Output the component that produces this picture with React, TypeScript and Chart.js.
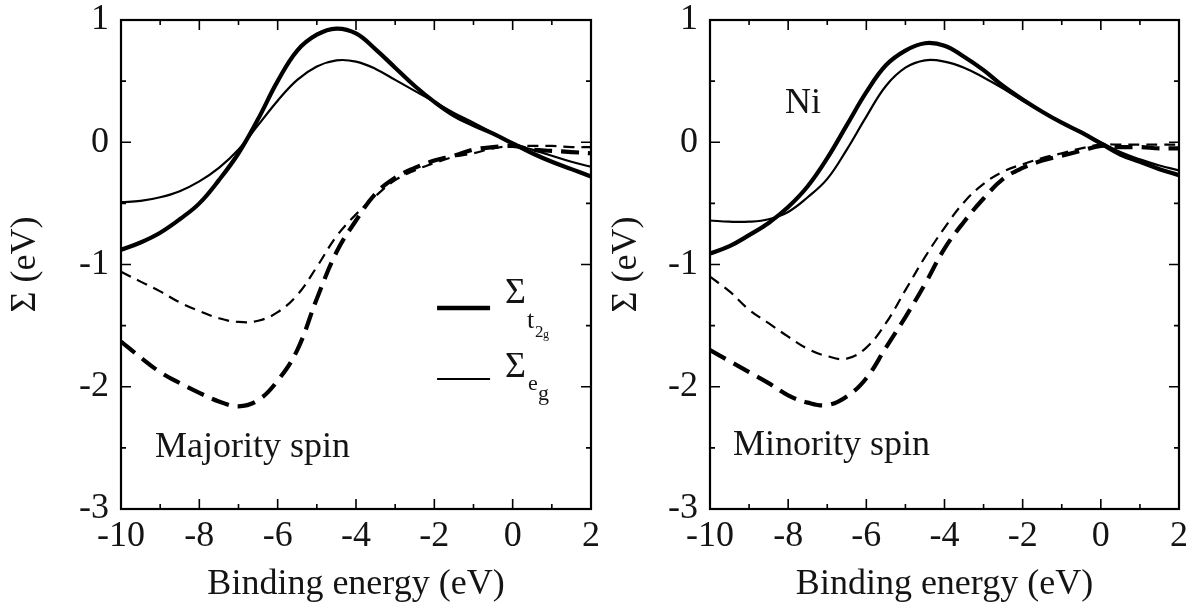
import React, { useEffect, useRef } from "react";
import { Chart, registerables } from "chart.js";

Chart.register(...registerables);

// ---------------- data ----------------
const energy = [-10, -9.5, -9, -8.5, -8, -7.5, -7, -6.5, -6, -5.5, -5, -4.5, -4, -3.5, -3, -2.5, -2, -1.5, -1, -0.5, 0, 0.5, 1, 1.5, 2];

// Majority spin
const majT2gRe = [-0.88, -0.82, -0.74, -0.63, -0.5, -0.31, -0.09, 0.19, 0.5, 0.75, 0.88, 0.93, 0.89, 0.76, 0.61, 0.46, 0.33, 0.22, 0.14, 0.07, -0.01, -0.09, -0.16, -0.22, -0.28];
const majEgRe = [-0.49, -0.48, -0.45, -0.4, -0.32, -0.21, -0.06, 0.14, 0.34, 0.51, 0.62, 0.67, 0.66, 0.6, 0.51, 0.42, 0.33, 0.24, 0.16, 0.075, -0.01, -0.06, -0.11, -0.16, -0.2];
const majT2gIm = [-1.63, -1.76, -1.88, -1.97, -2.05, -2.12, -2.16, -2.11, -1.95, -1.7, -1.28, -0.9, -0.64, -0.42, -0.29, -0.21, -0.15, -0.11, -0.06, -0.04, -0.03, -0.06, -0.07, -0.08, -0.09];
const majEgIm = [-1.06, -1.14, -1.22, -1.31, -1.38, -1.44, -1.47, -1.46, -1.39, -1.25, -1.02, -0.77, -0.59, -0.44, -0.31, -0.23, -0.17, -0.12, -0.09, -0.05, -0.03, -0.03, -0.03, -0.04, -0.04];

// Minority spin
const minT2gRe = [-0.91, -0.85, -0.76, -0.66, -0.53, -0.36, -0.13, 0.14, 0.41, 0.63, 0.75, 0.81, 0.79, 0.7, 0.59, 0.46, 0.35, 0.25, 0.16, 0.08, -0.01, -0.1, -0.16, -0.22, -0.27];
const minEgRe = [-0.64, -0.65, -0.65, -0.63, -0.57, -0.45, -0.3, -0.06, 0.21, 0.46, 0.61, 0.67, 0.66, 0.61, 0.53, 0.44, 0.34, 0.25, 0.16, 0.08, 0.0, -0.08, -0.14, -0.19, -0.23];
const minT2gIm = [-1.7, -1.79, -1.88, -1.97, -2.07, -2.13, -2.15, -2.08, -1.93, -1.68, -1.43, -1.16, -0.87, -0.65, -0.46, -0.3, -0.21, -0.15, -0.11, -0.07, -0.03, -0.04, -0.04, -0.05, -0.05];
const minEgIm = [-1.1, -1.22, -1.37, -1.48, -1.59, -1.69, -1.75, -1.77, -1.68, -1.48, -1.21, -0.94, -0.7, -0.49, -0.34, -0.24, -0.18, -0.13, -0.09, -0.05, -0.02, -0.02, -0.02, -0.02, -0.02];

const xTickValues = [-10, -8, -6, -4, -2, 0, 2];
const xMinorTicks = [-9, -7, -5, -3, -1, 1];
const yTickValues = [-3, -2, -1, 0, 1];
const yMinorTicks = [-2.5, -1.5, -0.5, 0.5];

const xTitle = "Binding energy (eV)";
const yTitle = "Σ (eV)";

// ---------------- styling ----------------
const SERIF = "'Liberation Serif', 'Times New Roman', serif";
const INK = "#141414";

const pts = (ys: number[]) => energy.map((x, i) => ({ x, y: ys[i] }));

function makeDatasets(t2gRe: number[], egRe: number[], t2gIm: number[], egIm: number[]) {
  const base = { pointRadius: 0, fill: false, tension: 0.4, borderColor: "#000" };
  return [
    { ...base, label: "t2g Re", data: pts(t2gRe), borderWidth: 4.2 },
    { ...base, label: "eg Re", data: pts(egRe), borderWidth: 2.2 },
    { ...base, label: "t2g Im", data: pts(t2gIm), borderWidth: 4.2, borderDash: [18, 9] },
    { ...base, label: "eg Im", data: pts(egIm), borderWidth: 2.2, borderDash: [11, 7] },
  ];
}

const framePlugin = {
  id: "frame",
  afterDraw(chart: any, _args: any, opts: any) {
    const { ctx, chartArea: a, scales } = chart;
    const xs = scales.x;
    const ys = scales.y;
    ctx.save();
    ctx.strokeStyle = "#000";
    ctx.lineWidth = 1.6;
    const major = 10;
    const minor = 5;
    const xt = (v: number, len: number) => {
      const px = xs.getPixelForValue(v);
      ctx.beginPath();
      ctx.moveTo(px, a.bottom);
      ctx.lineTo(px, a.bottom - len);
      ctx.moveTo(px, a.top);
      ctx.lineTo(px, a.top + len);
      ctx.stroke();
    };
    const yt = (v: number, len: number) => {
      const py = ys.getPixelForValue(v);
      ctx.beginPath();
      ctx.moveTo(a.left, py);
      ctx.lineTo(a.left + len, py);
      ctx.moveTo(a.right, py);
      ctx.lineTo(a.right - len, py);
      ctx.stroke();
    };
    xTickValues.slice(1, -1).forEach((v) => xt(v, major));
    xMinorTicks.forEach((v) => xt(v, minor));
    yTickValues.slice(1, -1).forEach((v) => yt(v, major));
    yMinorTicks.forEach((v) => yt(v, minor));
    ctx.lineWidth = 2.2;
    ctx.strokeRect(a.left, a.top, a.right - a.left, a.bottom - a.top);

    // text annotations
    ctx.fillStyle = INK;
    ctx.textBaseline = "alphabetic";
    ctx.textAlign = "left";
    (opts.texts || []).forEach((t: any) => {
      ctx.font = `${t.size}px ${SERIF}`;
      ctx.fillText(t.text, xs.getPixelForValue(t.x), ys.getPixelForValue(t.y));
    });

    if (opts.legend) {
      const lx = xs.getPixelForValue(opts.legend.x);
      const ly = ys.getPixelForValue(opts.legend.y);
      ctx.strokeStyle = "#000";
      ctx.lineWidth = 4.5;
      ctx.beginPath();
      ctx.moveTo(lx, ly);
      ctx.lineTo(lx + 53, ly);
      ctx.stroke();
      ctx.lineWidth = 2.2;
      ctx.beginPath();
      ctx.moveTo(lx, ly + 71);
      ctx.lineTo(lx + 53, ly + 71);
      ctx.stroke();
      const txt = (s: string, size: number, dx: number, dy: number) => {
        ctx.font = `${size}px ${SERIF}`;
        ctx.fillText(s, lx + dx, ly + dy);
      };
      txt("Σ", 36, 68, -5);
      txt("t", 26, 90, 20);
      txt("2", 17, 98, 29);
      txt("g", 12, 106, 30);
      txt("Σ", 36, 68, 69);
      txt("e", 22, 91, 82);
      txt("g", 22, 101, 92);
    }
    ctx.restore();
  },
};

function makeConfig(datasets: any[], yAxisWidth: number, padRight: number, yTitlePad: number, annot: any) {
  const tickFont = { family: SERIF, size: 36 };
  return {
    type: "line" as const,
    data: { datasets },
    plugins: [framePlugin],
    options: {
      responsive: false,
      animation: false as const,
      layout: { padding: { left: 0, right: padRight, top: 20, bottom: 0 } },
      plugins: {
        legend: { display: false },
        tooltip: { enabled: false },
        frame: annot,
      },
      scales: {
        x: {
          type: "linear" as const,
          min: -10,
          max: 2,
          afterBuildTicks: (s: any) => {
            s.ticks = xTickValues.map((v) => ({ value: v }));
          },
          ticks: {
            autoSkip: false,
            maxRotation: 0,
            font: tickFont,
            color: INK,
            padding: 6,
            callback: (v: any) => String(v),
          },
          grid: { display: false, drawTicks: false },
          border: { display: false },
          title: { display: true, text: xTitle, font: tickFont, color: INK, padding: { top: 0, bottom: 0 } },
          afterFit: (s: any) => {
            s.height = 97;
            s.paddingLeft = 0;
            s.paddingRight = 0;
          },
        },
        y: {
          type: "linear" as const,
          min: -3,
          max: 1,
          afterBuildTicks: (s: any) => {
            s.ticks = yTickValues.map((v) => ({ value: v }));
          },
          ticks: {
            font: tickFont,
            color: INK,
            padding: 12,
            callback: (v: any) => String(v),
          },
          grid: { display: false, drawTicks: false },
          border: { display: false },
          title: { display: true, text: yTitle, font: tickFont, color: INK, padding: { top: yTitlePad, bottom: 0 } },
          afterFit: (s: any) => {
            s.width = yAxisWidth;
            s.paddingTop = 0;
            s.paddingBottom = 0;
          },
        },
      },
    },
  };
}

export default function App() {
  const leftRef = useRef<HTMLCanvasElement | null>(null);
  const rightRef = useRef<HTMLCanvasElement | null>(null);

  useEffect(() => {
    document.body.style.margin = "0";
    const left = new Chart(
      leftRef.current as HTMLCanvasElement,
      makeConfig(makeDatasets(majT2gRe, majEgRe, majT2gIm, majEgIm), 121, 7, 4, {
        texts: [{ text: "Majority spin", x: -9.13, y: -2.575, size: 36 }],
        legend: { x: -1.93, y: -1.356 },
      }) as any
    );
    const right = new Chart(
      rightRef.current as HTMLCanvasElement,
      makeConfig(makeDatasets(minT2gRe, minEgRe, minT2gIm, minEgIm), 113, 16, 8, {
        texts: [
          { text: "Minority spin", x: -9.41, y: -2.56, size: 36 },
          { text: "Ni", x: -8.08, y: 0.24, size: 36 },
        ],
      }) as any
    );
    return () => {
      left.destroy();
      right.destroy();
    };
  }, []);

  return (
    <div style={{ position: "relative", width: 1195, height: 606, background: "#fff", overflow: "hidden" }}>
      <canvas ref={leftRef} width={598} height={606} style={{ position: "absolute", left: 0, top: 0, width: 598, height: 606 }} />
      <canvas ref={rightRef} width={598} height={606} style={{ position: "absolute", left: 597, top: 0, width: 598, height: 606 }} />
    </div>
  );
}
